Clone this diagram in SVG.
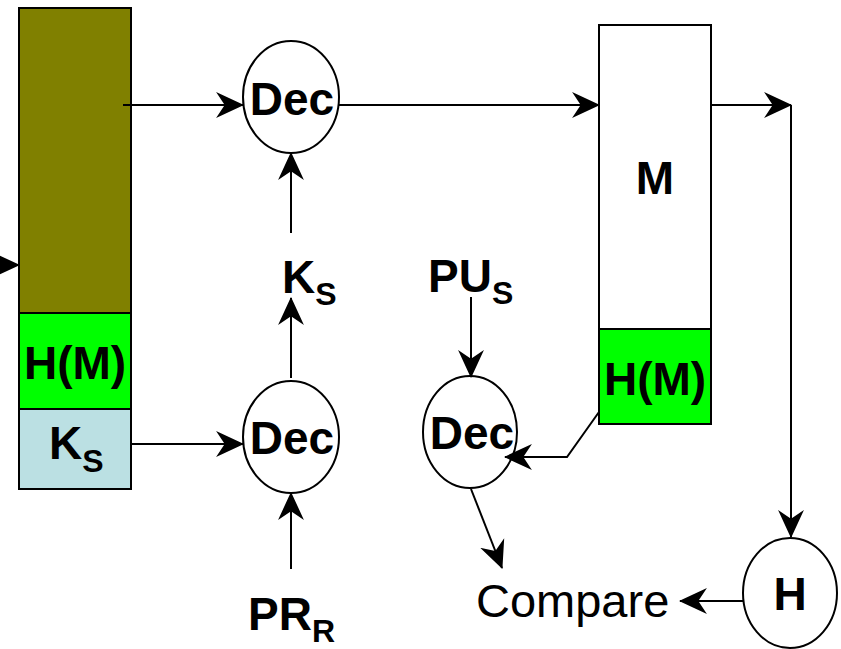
<svg xmlns="http://www.w3.org/2000/svg" width="841" height="649" viewBox="0 0 841 649">
<style>
.b{font-family:"Liberation Sans",Arial,sans-serif;font-weight:bold;font-size:46px;fill:#000}
.n{font-family:"Liberation Sans",Arial,sans-serif;font-size:47px;fill:#000}
.sub{font-size:32px}
.box{stroke:#000;stroke-width:2}
.ell{fill:#fff;stroke:#000;stroke-width:2}
.c{fill:none;stroke:#000;stroke-width:2}
</style>
<defs>
<marker id="arr" markerUnits="userSpaceOnUse" markerWidth="28" markerHeight="28" viewBox="0 0 26 26" refX="25" refY="13" orient="auto">
<path d="M0,1 L26,13 L0,25 L8,13 Z" fill="#000"/>
</marker>
</defs>
<rect width="841" height="649" fill="#fff"/>
<g id="packet">
<rect class="box" x="19" y="8" width="112" height="305" fill="#808000"/>
<rect class="box" x="19" y="313" width="112" height="96" fill="#00FF00"/>
<rect class="box" x="19" y="409" width="112" height="80" fill="#BBE0E3"/>
<text class="b" x="75" y="379" text-anchor="middle">H(M)</text>
<text class="b" x="49" y="459">K<tspan class="sub" dy="13">S</tspan></text>
</g>
<g id="dec1">
<ellipse class="ell" cx="291" cy="97" rx="48" ry="56"/>
<text class="b" x="292" y="115" text-anchor="middle">Dec</text>
</g>
<g id="ks-label">
<text class="b" x="282" y="293">K<tspan class="sub" dy="12">S</tspan></text>
</g>
<g id="dec2">
<ellipse class="ell" cx="291" cy="437" rx="48" ry="56"/>
<text class="b" x="292" y="454" text-anchor="middle">Dec</text>
</g>
<g id="prr-label">
<text class="b" x="248" y="630">PR<tspan class="sub" dy="12">R</tspan></text>
</g>
<g id="pus-label">
<text class="b" x="428" y="292">PU<tspan class="sub" dy="12">S</tspan></text>
</g>
<g id="dec3">
<ellipse class="ell" cx="470" cy="432" rx="47" ry="56"/>
<text class="b" x="472" y="449" text-anchor="middle">Dec</text>
</g>
<g id="message">
<rect class="box" x="599" y="25" width="112" height="304" fill="#fff"/>
<rect class="box" x="599" y="329" width="112" height="95" fill="#00FF00"/>
<text class="b" x="655" y="194" text-anchor="middle">M</text>
<text class="b" x="655" y="395" text-anchor="middle">H(M)</text>
</g>
<g id="hash">
<ellipse class="ell" cx="790" cy="593" rx="47" ry="55"/>
<text class="b" x="790" y="610" text-anchor="middle">H</text>
</g>
<g id="compare">
<text class="n" x="476" y="617">Compare</text>
</g>
<g id="connectors">
<path class="c" d="M0,265 L19,265" marker-end="url(#arr)"/>
<path class="c" d="M123,105 L243,105" marker-end="url(#arr)"/>
<path class="c" d="M291,233 L291,153" marker-end="url(#arr)"/>
<path class="c" d="M131,444 L243,444" marker-end="url(#arr)"/>
<path class="c" d="M291,378 L291,298" marker-end="url(#arr)"/>
<path class="c" d="M291,569 L291,493" marker-end="url(#arr)"/>
<path class="c" d="M339,105 L599,105" marker-end="url(#arr)"/>
<path class="c" d="M711,105 L791,105" marker-end="url(#arr)"/>
<path class="c" d="M791,105 L791,537" marker-end="url(#arr)"/>
<path class="c" d="M471,297 L471,377" marker-end="url(#arr)"/>
<path class="c" d="M599,412 L567,457 L505,457" marker-end="url(#arr)"/>
<path class="c" d="M471,489 L502,568" marker-end="url(#arr)"/>
<path class="c" d="M743,601 L680,601" marker-end="url(#arr)"/>
</g>
</svg>
